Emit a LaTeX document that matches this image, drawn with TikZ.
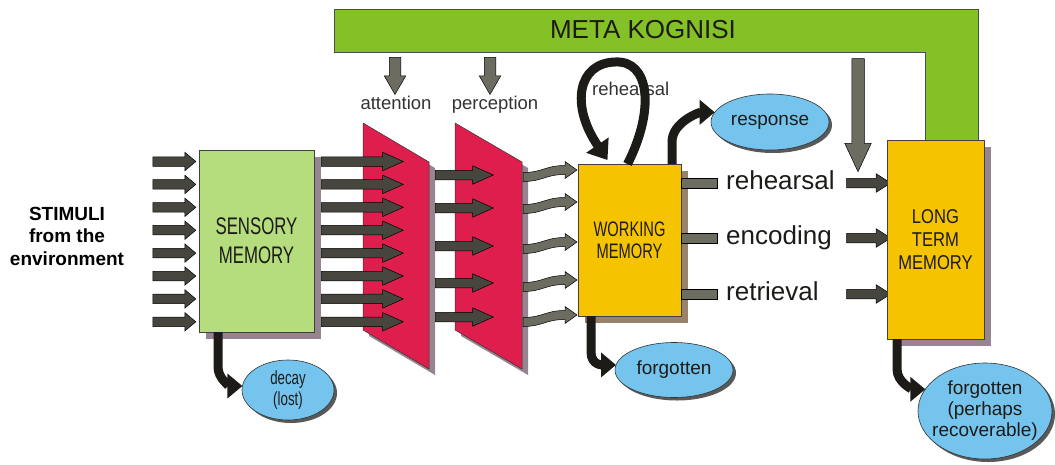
\documentclass[tikz,border=0pt]{standalone}
\usepackage{fontspec}
\setmainfont{Liberation Sans}
\newfontfamily\narrowfont[FakeStretch=0.7]{Liberation Sans}
\newfontfamily\semifont[FakeStretch=0.83]{Liberation Sans}
\usetikzlibrary{shapes.arrows,shapes.geometric,shadows,arrows.meta}

\definecolor{metagreen}{RGB}{132,193,38}
\definecolor{sensgreen}{RGB}{182,221,125}
\definecolor{gatered}{RGB}{222,31,77}
\definecolor{memyellow}{RGB}{245,195,0}
\definecolor{bubbleblue}{RGB}{116,196,238}
\definecolor{darkgrey}{RGB}{70,69,62}
\definecolor{midgrey}{RGB}{108,108,96}
\definecolor{mauve}{RGB}{150,133,145}
\definecolor{umber}{RGB}{152,130,105}
\definecolor{inkblack}{RGB}{29,27,23}

\begin{document}
\begin{tikzpicture}[x=1pt,y=-1pt,
  block/.style={single arrow, draw=black, line width=0.5pt, fill=darkgrey, inner xsep=0pt, inner ysep=4.5pt, outer sep=0pt, single arrow head extend=4.5pt},
  downblock/.style={block, fill=midgrey, shape border rotate=270, inner ysep=0pt},
  memory/.style={rectangle, draw=black!75, line width=0.6pt, inner sep=0pt, outer sep=0pt, align=center, text=inkblack},
  bubble/.style={ellipse, draw=black!80, line width=0.6pt, fill=bubbleblue, inner sep=0pt, outer sep=0pt, align=center, text=inkblack, font=\fontsize{19}{21}\selectfont, general shadow={fill=black!65, shadow xshift=3pt, shadow yshift=-3pt}},
  gate/.style={fill=gatered, draw=black!80, line width=0.5pt, general shadow={fill=mauve, shadow xshift=6pt, shadow yshift=-6pt}},
  flow/.style={line width=9pt, draw=inkblack, -{Triangle[width=24pt,length=15pt]}},
  lbl/.style={text=black!80, inner sep=0pt, anchor=base, font=\fontsize{18.5}{20}\selectfont},
  biglbl/.style={text=inkblack, inner sep=0pt, anchor=base west, font=\fontsize{26}{28}\selectfont}]
\useasboundingbox (0,0) rectangle (1055,464);

% meta cognition frame
\draw[fill=metagreen, draw=black!70, line width=0.6pt] (334,9) -- (978,9) -- (978,141) -- (925,141) -- (925,52) -- (334,52) -- cycle;
\node[text=inkblack, font=\fontsize{26}{28}\selectfont] (meta) at (643,30) {META KOGNISI};
\foreach \x/\n in {395/attarrow, 490/perarrow}
  \node[downblock, inner xsep=5.5pt, single arrow head extend=5pt, single arrow tip angle=60, minimum height=37pt] (\n) at (\x,71) {};
\node[downblock, inner xsep=6pt, single arrow head extend=7pt, single arrow tip angle=50, minimum height=113pt] (ltmarrow) at (858,108.5) {};
\node[lbl] (attention) at (396,109) {attention};
\node[lbl] (perception) at (495,109) {perception};

\node[align=center, font=\fontsize{19}{22.5}\selectfont\bfseries] (stimuli) at (67,236) {STIMULI\\from the\\environment};
\foreach \i in {0,...,7}
  \node[block, minimum height=43pt, single arrow tip angle=80] (in\i) at (171.5,{161.5+22.9*\i}) {};

\node[memory, fill=sensgreen, minimum width=115pt, minimum height=182pt, font=\narrowfont\fontsize{24}{29}\selectfont, general shadow={fill=mauve, shadow xshift=7pt, shadow yshift=-7pt}] (sensory) at (256.5,241) {SENSORY\\MEMORY};

\path[gate] (363,123) -- (429,162) -- (429,369) -- (363,330) -- cycle;
\foreach \i in {0,...,7}
  \node[block, minimum height=82pt, single arrow tip angle=48] (sm\i) at (357,{161.5+22.9*\i}) {};

\path[gate] (455,123) -- (522,162) -- (522,369) -- (455,330) -- cycle;
\foreach \y/\n in {175/1, 208/2, 246/3, 283/4, 317/5}
  \node[block, minimum height=58pt, single arrow tip angle=48] (pa\n) at (459,\y) {};
% bent arrows into working memory
\foreach \t in {170, 202, 242, 280, 315}
  \filldraw[fill=midgrey, draw=black, line width=0.5pt] (523,{\t+2.5}) .. controls (543,{\t+2.5}) and (545,{\t-4.5}) .. (565,{\t-4.5}) -- (565,{\t-8.5}) -- (577,\t) -- (565,{\t+8.5}) -- (565,{\t+4.5}) .. controls (545,{\t+4.5}) and (543,{\t+11.5}) .. (523,{\t+11.5}) -- cycle;

\node[memory, fill=memyellow, minimum width=103pt, minimum height=152pt, font=\narrowfont\fontsize{21}{22}\selectfont, general shadow={fill=umber, shadow xshift=7pt, shadow yshift=-7pt}] (wm) at (629.5,240) {WORKING\\MEMORY};

\foreach \y/\n/\t in {183/reh/rehearsal, 238/enc/encoding, 294/ret/retrieval} {
  \node[rectangle, fill=midgrey, draw=black, line width=0.5pt, minimum width=36pt, minimum height=10pt, inner sep=0pt] (s\n) at (699,\y) {};
  \node[biglbl] (\n) at (726,{\y+6}) {\t};
  \node[block, minimum height=44pt, single arrow tip angle=65] (a\n) at (865,\y) {};
}

\node[memory, fill=memyellow, minimum width=97pt, minimum height=199pt, font=\semifont\fontsize{20}{23}\selectfont, general shadow={fill=mauve, shadow xshift=7pt, shadow yshift=-7pt}] (ltm) at (935.5,239.5) {LONG\\TERM\\MEMORY};

\node[bubble, minimum width=118pt, minimum height=56pt] (response) at (770,122) {response};
\node[bubble, font=\narrowfont\fontsize{19}{21}\selectfont, minimum width=92pt, minimum height=60pt] (decay) at (288,390) {decay\\(lost)};
\node[bubble, minimum width=118pt, minimum height=55pt] (forgotwm) at (674,370) {forgotten};
\node[bubble, minimum width=134pt, minimum height=96pt] (forgotltm) at (985,411) {\makebox[0pt]{\begin{tabular}{@{}c@{}}forgotten\\(perhaps\\recoverable)\end{tabular}}};

\node[lbl, anchor=base west] (loopreh) at (592,95) {rehearsal};
\draw[flow, -{Triangle[width=26pt,length=18pt]}] ([xshift=-2pt]wm.north) .. controls (655,110) and (650,60) .. (615,62) .. controls (578,63) and (570,105) .. ([shift={(-22pt,4pt)}]wm.north);
\draw[flow] ([xshift=-9pt]wm.north east) -- ++(0,-22) .. controls +(0,-20) and +(-15,0) .. (response.170);
\draw[flow] ([xshift=19pt]sensory.south west) -- ++(0,35) .. controls +(0,12) and +(-12,0) .. (decay.175);
\draw[flow] ([xshift=13pt]wm.south west) -- ++(0,36) .. controls +(0,14) and +(-12,0) .. (forgotwm.175);
\draw[flow] ([xshift=10pt]ltm.south west) -- ++(0,30) .. controls +(0,14) and +(-12,0) .. (forgotltm.160);

\end{tikzpicture}
\end{document}
